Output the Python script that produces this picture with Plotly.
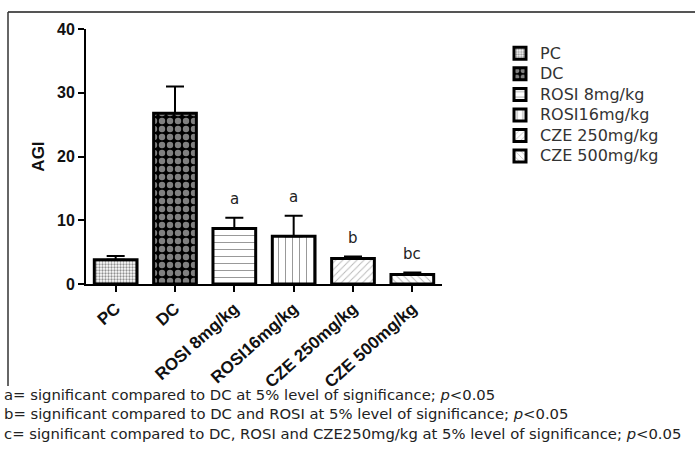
import plotly.graph_objects as go

categories = ["PC", "DC", "ROSI 8mg/kg", "ROSI16mg/kg", "CZE 250mg/kg", "CZE 500mg/kg"]
legend_names = ["PC", "DC", "ROSI 8mg/kg", "ROSI16mg/kg", "CZE 250mg/kg", "CZE 500mg/kg"]
agi_mean = [3.8, 26.8, 8.7, 7.5, 4.0, 1.5]
agi_err = [0.6, 4.2, 1.7, 3.2, 0.3, 0.3]
sig_labels = ["", "", "a", "a", "b", "bc"]
footnotes = [
    "a= significant compared to DC at 5% level of significance; <i>p</i><0.05",
    "b= significant compared to DC and ROSI at 5% level of significance; <i>p</i><0.05",
    "c= significant compared to DC, ROSI and CZE250mg/kg at 5% level of significance; <i>p</i><0.05",
]

patterns = [
    dict(shape=".", fgcolor="#222222", bgcolor="white", size=3, solidity=0.45),
    dict(shape=".", fgcolor="white", bgcolor="black", size=8, solidity=0.5),
    dict(shape="-", fgcolor="#333333", bgcolor="white", size=7, solidity=0.15),
    dict(shape="|", fgcolor="#333333", bgcolor="white", size=7, solidity=0.15),
    dict(shape="/", fgcolor="#777777", bgcolor="white", size=5, solidity=0.2),
    dict(shape="\\", fgcolor="#777777", bgcolor="white", size=5, solidity=0.2),
]

TXT = "DejaVu Sans, Liberation Sans, Arial"
W, H = 695, 450
L, R, T, B = 86, 253, 29, 166
pw, ph = W - L - R, H - T - B

def px_x(px):
    return (px - L) / pw

def px_y(py):
    return (H - B - py) / ph

fig = go.Figure()
for i, cat in enumerate(categories):
    fig.add_trace(go.Bar(
        x=[cat], y=[agi_mean[i]],
        name='<span style="font-size:16px">' + legend_names[i] + '</span>',
        width=0.72,
        marker=dict(color="white", line=dict(color="black", width=3), pattern=patterns[i]),
        error_y=dict(type="data", array=[agi_err[i]], arrayminus=[0], symmetric=False,
                     color="black", thickness=2, width=9),
    ))

for i, lab in enumerate(sig_labels):
    if lab:
        fig.add_annotation(x=categories[i], y=agi_mean[i] + agi_err[i], text=lab,
                           showarrow=False, yanchor="bottom", yshift=8,
                           font=dict(family=TXT, size=15, color="#222"))

for j, txt in enumerate(footnotes):
    fig.add_annotation(xref="paper", yref="paper", x=px_x(2), y=px_y(394 + j * 19.5),
                       text=txt, showarrow=False, xanchor="left", yanchor="middle",
                       font=dict(family=TXT, size=14.8, color="#222"))

# image frame
fig.add_shape(type="line", xref="paper", yref="paper", x0=px_x(8), y0=px_y(12), x1=px_x(700), y1=px_y(12),
              line=dict(color="#555", width=2))
fig.add_shape(type="line", xref="paper", yref="paper", x0=px_x(8), y0=px_y(12), x1=px_x(8), y1=px_y(386),
              line=dict(color="#333", width=1.5))

fig.update_layout(
    width=W, height=H,
    margin=dict(l=L, r=R, t=T, b=B, autoexpand=False),
    paper_bgcolor="white", plot_bgcolor="white",
    showlegend=True, barmode="overlay",
    font=dict(family="Liberation Sans, Arial", color="#222"),
    legend=dict(x=px_x(500), y=px_y(38), xanchor="left", yanchor="top",
                font=dict(size=13.5, color="#333", family=TXT), tracegroupgap=0, itemwidth=30,
                bgcolor="rgba(0,0,0,0)"),
    xaxis=dict(showline=True, linecolor="black", linewidth=2, ticks="outside", ticklen=6,
               tickwidth=2, tickcolor="black", tickangle=-42, range=[-0.5, 5.5],
               tickfont=dict(size=17, color="#111", family="Liberation Sans, Arial", weight="bold"),
               showgrid=False, zeroline=False),
    yaxis=dict(showline=True, linecolor="black", linewidth=2, ticks="outside", ticklen=6,
               tickwidth=2, tickcolor="black", range=[0, 40], tickvals=[0, 10, 20, 30, 40],
               tickfont=dict(size=16, color="#111", family="Liberation Sans, Arial", weight="bold"),
               showgrid=False, zeroline=False,
               title=dict(text="AGI", standoff=8,
                          font=dict(size=17, color="#111", family="Liberation Sans, Arial", weight="bold"))),
)

fig.write_html("out.html", post_script="document.body.style.margin='0px';",
               config={"displayModeBar": False})
